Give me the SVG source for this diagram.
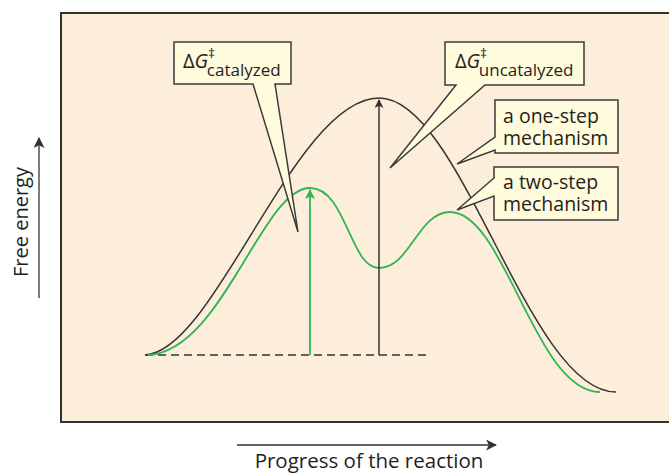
<svg xmlns="http://www.w3.org/2000/svg" width="669" height="473" viewBox="0 0 669 473">
<defs>
<style>
.t{font-family:"Open Sans","Noto Sans","Liberation Sans",sans-serif;fill:#231f20;}
.call{fill:#fffbdc;stroke:#3a3a3a;stroke-width:1.5;stroke-linejoin:miter;}
.blk{fill:none;stroke:#333;stroke-width:1.5;}
.grn{fill:none;stroke:#2fb653;stroke-width:1.8;}
</style>
<marker id="ab" viewBox="0 0 10 10" refX="9" refY="5" markerWidth="10" markerHeight="9" markerUnits="userSpaceOnUse" orient="auto"><path d="M0,0 L10,5 L0,10 L2.5,5 Z" fill="#333"/></marker>
<marker id="ag" viewBox="0 0 10 10" refX="9" refY="5" markerWidth="12" markerHeight="10" markerUnits="userSpaceOnUse" orient="auto"><path d="M0,0 L10,5 L0,10 L2.5,5 Z" fill="#2fb653"/></marker>
<marker id="aa" viewBox="0 0 10 10" refX="9" refY="5" markerWidth="11" markerHeight="11" markerUnits="userSpaceOnUse" orient="auto"><path d="M0,0 L10,5 L0,10 L2.5,5 Z" fill="#333"/></marker>
</defs>
<rect width="669" height="473" fill="#fff"/>
<rect id="panel" x="61" y="13" width="620" height="409" fill="#fdeedb" stroke="#333" stroke-width="2"/>

<g id="connectors">
<path id="dash" d="M145,355 H428" fill="none" stroke="#333" stroke-width="1.5" stroke-dasharray="8,5"/>
<path id="uncat-curve" class="blk" d="M145,355 C215,352 295,98 379,98 C462,98 528,392 616,392"/>
<path id="cat-curve" class="grn" d="M148,355 C222,352 262,188 310,188 C346,188 350,268 379,268 C410,268 418,212 450,212 C505,212 535,392 600,392"/>
<line id="arrow-cat" x1="310" y1="355" x2="310" y2="190" stroke="#2fb653" stroke-width="1.8" marker-end="url(#ag)"/>
<line id="arrow-uncat" x1="379" y1="355" x2="379" y2="100" stroke="#333" stroke-width="1.5" marker-end="url(#ab)"/>
<line id="y-axis" x1="39" y1="298" x2="39" y2="138" stroke="#333" stroke-width="1.3" marker-end="url(#aa)"/>
<line id="x-axis" x1="237" y1="445" x2="496" y2="445" stroke="#333" stroke-width="1.3" marker-end="url(#aa)"/>
</g>

<g id="callout-catalyzed">
<path class="call" d="M174,42 H291 V84 H275 L298,232 L253,84 H174 Z"/>
<text class="t" x="183" y="68" font-size="20">Δ<tspan font-style="italic">G</tspan><tspan font-size="13" dy="-10">‡</tspan><tspan font-size="17" dx="-8" dy="18">catalyzed</tspan></text>
</g>

<g id="callout-uncatalyzed">
<path class="call" d="M445,42 H584 V85 H485 L390,168 L456,85 H445 Z"/>
<text class="t" x="455" y="68" font-size="20">Δ<tspan font-style="italic">G</tspan><tspan font-size="13" dy="-10">‡</tspan><tspan font-size="17" dx="-8" dy="18">uncatalyzed</tspan></text>
</g>

<g id="callout-one-step">
<path class="call" d="M495,100 H618 V153 H495 V150 L457,164 L495,137 Z"/>
<text class="t" font-size="19.5"><tspan x="503" y="123">a one-step</tspan><tspan x="503" y="145">mechanism</tspan></text>
</g>

<g id="callout-two-step">
<path class="call" d="M494,167 H618 V220 H494 V196 L457,210 L494,178 Z"/>
<text class="t" font-size="19.5"><tspan x="503" y="189">a two-step</tspan><tspan x="503" y="211">mechanism</tspan></text>
</g>

<g id="labels">
<text class="t" x="0" y="0" font-size="20" text-anchor="middle" transform="translate(28,222) rotate(-90)">Free energy</text>
<text class="t" x="369" y="468" font-size="20.5" text-anchor="middle">Progress of the reaction</text>
</g>
</svg>
